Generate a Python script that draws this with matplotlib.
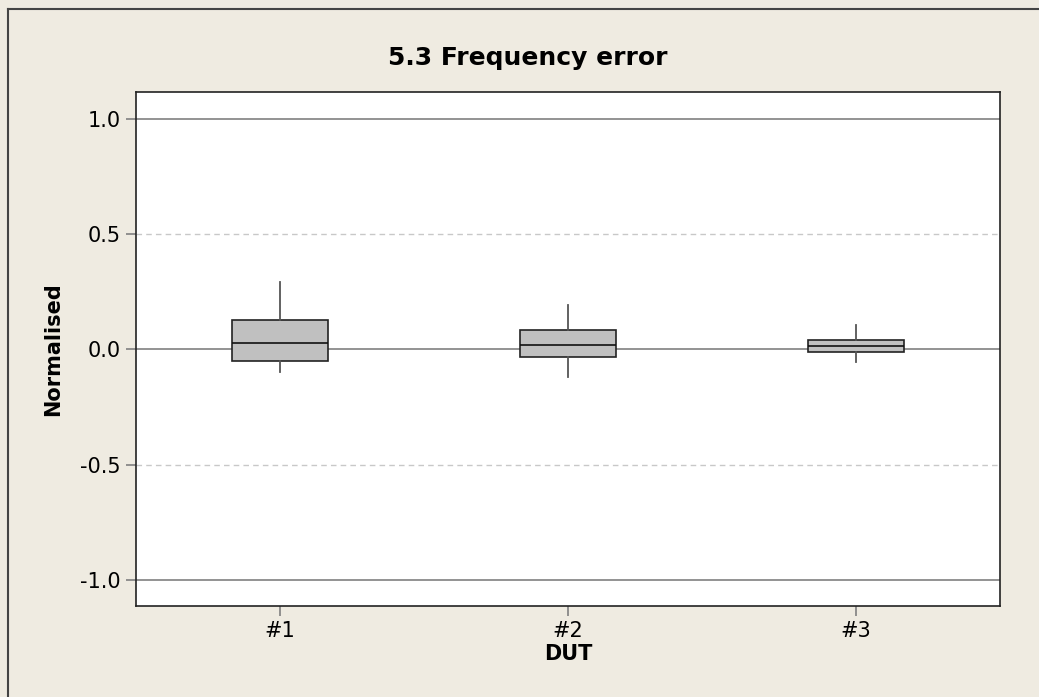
import matplotlib
matplotlib.use("Agg")
import matplotlib.pyplot as plt
from matplotlib.lines import Line2D

categories = ["#1", "#2", "#3"]
q1 = [-0.049, -0.034, -0.012]
medians = [0.028, 0.020, 0.015]
q3 = [0.128, 0.085, 0.040]
whisker_lo = [-0.098, -0.118, -0.053]
whisker_hi = [0.293, 0.194, 0.106]
y_ticks = [-1.0, -0.5, 0.0, 0.5, 1.0]
y_tick_labels = ["-1.0", "-0.5", "0.0", "0.5", "1.0"]
ref_solid = [-1.0, 0.0, 1.0]
ref_dashed = [-0.5, 0.5]

bg = "#EFEBE1"
fig = plt.figure(figsize=(10.39, 6.97), dpi=100, facecolor=bg)
ax = fig.add_axes([136/1039, 1-606/697, 864/1039, 514/697])
ax.set_facecolor("white")

for y in ref_dashed:
    ax.axhline(y, color="#C8C8C8", lw=1, ls=(0, (4, 3)), zorder=0)
for y in ref_solid:
    ax.axhline(y, color="#808080", lw=1.2, zorder=0)

stats = []
for i, c in enumerate(categories):
    stats.append(dict(label=c, q1=q1[i], med=medians[i], q3=q3[i],
                      whislo=whisker_lo[i], whishi=whisker_hi[i], fliers=[]))
ax.bxp(stats, positions=[1, 2, 3], widths=1/3, patch_artist=True,
       showcaps=False, showfliers=False,
       boxprops=dict(facecolor="#C0C0C0", edgecolor="#222222", lw=1.2),
       medianprops=dict(color="#111111", lw=1.2),
       whiskerprops=dict(color="#555555", lw=1.3), zorder=3)

ax.set_xlim(0.5, 3.5)
ax.set_ylim(-1.113, 1.117)
ax.set_yticks(y_ticks)
ax.set_yticklabels(y_tick_labels)
ax.set_xticks([1, 2, 3])
ax.set_xticklabels(categories)
ax.tick_params(axis="both", direction="out", length=7, width=1.2,
               color="#808080", labelsize=15, pad=4)
for s in ax.spines.values():
    s.set_color("#222222")
    s.set_linewidth(1.2)

ax.set_xlabel("DUT", fontsize=15, fontweight="bold", labelpad=2)
ax.set_ylabel("Normalised", fontsize=15, fontweight="bold", labelpad=12)
fig.text(528/1039, 1-58/697, "5.3 Frequency error", fontsize=18,
         fontweight="bold", ha="center", va="center")

# frame lines at top and left (image is cropped at right/bottom)
fig.add_artist(Line2D([8/1039, 1.0], [1-9/697, 1-9/697], transform=fig.transFigure,
                      color="#444444", lw=1.5))
fig.add_artist(Line2D([8/1039, 8/1039], [0.0, 1-9/697], transform=fig.transFigure,
                      color="#444444", lw=1.5))

fig.savefig("out.png", dpi=100, facecolor=bg)
